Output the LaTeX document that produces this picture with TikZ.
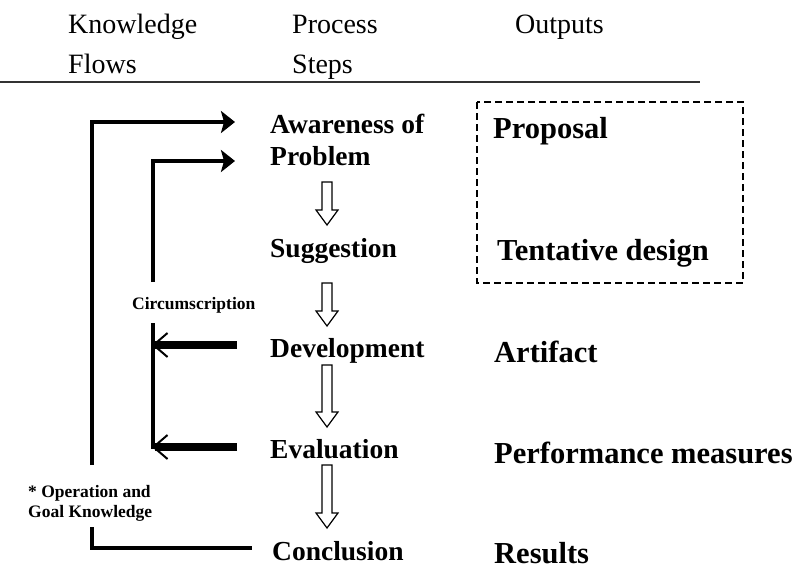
\documentclass[tikz,border=0pt]{standalone}
\usepackage{fontspec}
\setmainfont{Liberation Serif}
\usetikzlibrary{arrows.meta,calc}
\tikzset{
  hdr/.style={anchor=base west, inner sep=0pt, font=\fontsize{28}{34}\selectfont},
  stepname/.style={anchor=base west, inner sep=0pt, font=\bfseries\fontsize{27.5}{33}\selectfont},
  outname/.style={anchor=base west, inner sep=0pt, font=\bfseries\fontsize{30.5}{36}\selectfont},
  smalllabel/.style={anchor=base west, inner sep=0pt, font=\bfseries\fontsize{17.5}{20}\selectfont},
  flow/.style={line width=4pt},
  inflow/.style={line width=4.5pt, -{Stealth[length=14pt,width=22pt,inset=3pt]}},
  backflow/.style={line width=8pt, -{Straight Barb[line width=2pt,length=14pt,width=24pt]}},
  hollow/.style={line width=1.2pt, draw=black, fill=white, line join=miter},
  outbox/.style={line width=2.5pt, dash pattern=on 7pt off 4pt},
}
\newcommand{\harrow}[2]{%
  \draw[hollow] ($(#1)+(-5,0)$) -- ($(#2)+(-5,-15)$) -- ($(#2)+(-11,-15)$) -- (#2)
    -- ($(#2)+(11,-15)$) -- ($(#2)+(5,-15)$) -- ($(#1)+(5,0)$) -- cycle;}
\begin{document}
\begin{tikzpicture}[x=1pt,y=-1pt]
  \useasboundingbox (0,0) rectangle (804,579);

  % headers
  \node[hdr] (kn) at (68,33) {Knowledge};
  \node[hdr] (fl) at (68,73) {Flows};
  \node[hdr] (pr) at (292,33) {Process};
  \node[hdr] (st) at (292,73) {Steps};
  \node[hdr] (ou) at (515,33) {Outputs};
  \coordinate (ruleL) at (0,82);
  \coordinate (ruleR) at (700,82);
  \draw[line width=2.5pt, draw=black!80] (ruleL) -- (ruleR);

  % process steps
  \node[stepname] (aw) at (270,133) {Awareness of};
  \node[stepname] (pb) at (270,165) {Problem};
  \node[stepname] (sg) at (270,257) {Suggestion};
  \node[stepname] (dv) at (270,357) {Development};
  \node[stepname] (ev) at (270,458) {Evaluation};
  \node[stepname] (cc) at (272,560) {Conclusion};

  % outputs
  \node[outname] (pp) at (493,138) {Proposal};
  \node[outname] (td) at (497,260) {Tentative design};
  \node[outname] (ar) at (494,362) {Artifact};
  \node[outname] (pm) at (494,463) {Performance measures};
  \node[outname] (rs) at (494,563) {Results};
  \coordinate (boxA) at (477,102);
  \coordinate (boxB) at (743,283);
  \draw[outbox] (boxA) rectangle (boxB);

  % small labels
  \node[smalllabel] (ci) at (132,309) {Circumscription};
  \node[smalllabel] (op1) at (28,497) {* Operation and};
  \node[smalllabel] (op2) at (28,517) {Goal Knowledge};

  % hollow arrows between steps
  \coordinate (h1s) at (327,182); \coordinate (h1t) at (327,225);
  \coordinate (h2s) at (327,283); \coordinate (h2t) at (327,326);
  \coordinate (h3s) at (327,365); \coordinate (h3t) at (327,427);
  \coordinate (h4s) at (327,465); \coordinate (h4t) at (327,528);
  \harrow{h1s}{h1t}
  \harrow{h2s}{h2t}
  \harrow{h3s}{h3t}
  \harrow{h4s}{h4t}

  % outer knowledge flow
  \coordinate (oA) at (92,465); \coordinate (oTip) at (235,122);
  \draw[inflow] (oA) |- (oTip);
  \coordinate (oB) at (92,527); \coordinate (oEnd) at (252,548);
  \draw[flow] (oB) |- (oEnd);

  % inner circumscription flow
  \coordinate (iA) at (153,282); \coordinate (iTip) at (235,161);
  \draw[inflow] (iA) |- (iTip);
  \coordinate (iB) at (153,323); \coordinate (iC) at (153,449);
  \draw[flow] (iB) -- (iC);
  \coordinate (dS) at (237,345); \coordinate (dT) at (152,345);
  \draw[backflow] (dS) -- (dT);
  \coordinate (eS) at (237,447); \coordinate (eT) at (152,447);
  \draw[backflow] (eS) -- (eT);
\end{tikzpicture}
\end{document}
